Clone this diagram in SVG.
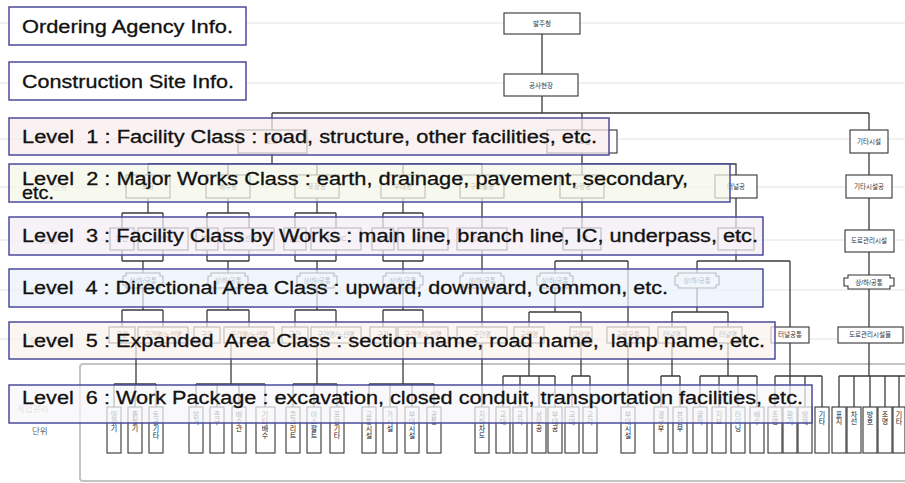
<svg xmlns="http://www.w3.org/2000/svg" width="905" height="483" viewBox="0 0 905 483">
<style>
.bg{fill:#fff}
.row{stroke:#e4e4e4;stroke-width:1}
.lbl{font-family:"Liberation Sans","Noto Sans CJK KR",sans-serif;font-size:8.5px;fill:#a8a8a8}
.cont{fill:none;stroke:#c4c4c4;stroke-width:2}
.c path{fill:none;stroke:#3a3a3a;stroke-width:1.3}
.n{fill:#fff;stroke:#333;stroke-width:1.1}
.nt{font-family:"Liberation Sans","Noto Sans CJK KR",sans-serif;font-size:6.5px;fill:#333;text-anchor:middle}
.v{font-family:"Noto Sans CJK KR",sans-serif;font-size:7px;fill:#222;writing-mode:vertical-rl}
.eb{stroke:#4b4b9b;stroke-width:1.5}
.et{font-family:"Liberation Sans",Arial,sans-serif;font-size:18px;fill:#111;stroke:#111;stroke-width:0.3;white-space:pre}
</style>
<rect class="bg" x="0" y="0" width="905" height="483"/>
<g id="rows">
<path class="row" d="M0 23H905M0 83H905M0 139H905M0 187H905M0 240H905M0 290H905M0 339H905"/>
</g>
<g id="side-labels">
<text class="lbl" x="37" y="26">발주청</text>
<text class="lbl" x="33" y="86">공사현장</text>
<text class="lbl" x="35" y="142">시설물</text>
<text class="lbl" x="52" y="190">공종</text>
<text class="lbl" x="35" y="243">시설물</text>
<text class="lbl" x="30" y="294">방향공간</text>
<text class="lbl" x="30" y="344">확장공간</text>
<text class="lbl" x="17" y="412">작업관리</text>
<text class="lbl" x="32" y="434" style="fill:#666">단위</text>
</g>
<rect class="cont" x="80" y="364" width="840" height="117" rx="3"/>
<g id="connectors" class="c">
<path d="M542 34V74M542 96V113M272 113H869M272 113V130M582 113V130M869 113V130"/>
<path d="M272 153V164M148 164H482M148 164V175M228 164V175M317 164V175M403 164V175M482 164V175M582 153V175M582 164H736V175M869 153V175"/>
<path d="M148 198V213M122 213H163M122 213V228M163 213V228"/>
<path d="M228 198V213M207 213H249M207 213V228M249 213V228"/>
<path d="M317 198V213M295 213H336M295 213V228M336 213V228"/>
<path d="M403 198V213M383 213H423M383 213V228M423 213V228"/>
<path d="M482 198V228M582 198V228M736 198V228M869 198V230"/>
<path d="M122 250V261M163 250V261M122 261H163M143 261V273"/>
<path d="M207 250V261M249 250V261M207 261H249M228 261V273"/>
<path d="M295 250V261M336 250V261M295 261H336M317 261V273"/>
<path d="M383 250V261M423 250V261M383 261H423M403 261V273"/>
<path d="M482 250V273M582 250V261M555 261H628M555 261V273M628 261V327M736 250V261M697 261H790M697 261V273M790 261V327M869 252V275"/>
<path d="M143 288V310M122 310H163M122 310V327M163 310V327"/>
<path d="M228 288V310M207 310H249M207 310V327M249 310V327"/>
<path d="M317 288V310M295 310H336M295 310V327M336 310V327"/>
<path d="M403 288V310M383 310H423M383 310V327M423 310V327"/>
<path d="M482 288V327M555 288V312M529 312H581M529 312V327M581 312V327M697 288V312M672 312H728M672 312V327M728 312V327M869 289V327"/>
<path d="M136 343V384M114 384H156M114 384V407M135 384V407M156 384V407"/>
<path d="M231 343V384M196 384H265M196 384V407M217 384V407M239 384V407M265 384V407"/>
<path d="M317 343V384M293 384H337M293 384V407M314 384V407M337 384V407"/>
<path d="M403 343V384M369 384H434M369 384V407M390 384V407M412 384V407M434 384V407"/>
<path d="M482 343V407M529 343V376M503 376H555M503 376V407M520 376V407M539 376V407M555 376V407M581 343V376M572 376H590M572 376V407M590 376V407M628 343V407"/>
<path d="M672 343V376M661 376H680M661 376V407M680 376V407M728 343V376M700 376H757M700 376V407M719 376V407M738 376V407M757 376V407"/>
<path d="M790 343V376M775 376H822M775 376V407M790 376V407M805 376V407M822 376V407"/>
<path d="M869 343V376M839 376H905M839 376V407M854 376V407M870 376V407M885 376V407M899 376V407"/>
</g>
<g id="n-balju"><rect class="n" x="504" y="13" width="76" height="21"/><text class="nt" x="542" y="26">발주청</text></g>
<g id="n-site"><rect class="n" x="504" y="74" width="74" height="22"/><text class="nt" x="541" y="88">공사현장</text></g>
<g id="l1-road"><rect class="n" x="238" y="130" width="69" height="23"/><text class="nt" x="272" y="144">도로</text></g>
<g id="l1-struct"><rect class="n" x="547" y="130" width="70" height="23"/><text class="nt" x="582" y="144">구조물</text></g>
<g id="l1-etc"><rect class="n" x="850" y="130" width="38" height="23"/><text class="nt" x="869" y="144">기타시설</text></g>
<g id="l2-earth"><rect class="n" x="126" y="175" width="44" height="23"/><text class="nt" x="148" y="189">토공</text></g>
<g id="l2-drain"><rect class="n" x="206" y="175" width="44" height="23"/><text class="nt" x="228" y="189">배수공</text></g>
<g id="l2-pave"><rect class="n" x="295" y="175" width="44" height="23"/><text class="nt" x="317" y="189">포장공</text></g>
<g id="l2-sec"><rect class="n" x="381" y="175" width="44" height="23"/><text class="nt" x="403" y="189">부대공</text></g>
<g id="l2-strw"><rect class="n" x="460" y="175" width="44" height="23"/><text class="nt" x="482" y="189">구조물공</text></g>
<g id="l2-bridge"><rect class="n" x="560" y="175" width="44" height="23"/><text class="nt" x="582" y="189">교량공</text></g>
<g id="l2-tunnel"><rect class="n" x="715" y="175" width="42" height="23"/><text class="nt" x="736" y="189">터널공</text></g>
<g id="l2-etc"><rect class="n" x="846" y="175" width="46" height="23"/><text class="nt" x="869" y="189">기타시설공</text></g>
<g id="l3-1a"><rect class="n" x="110" y="228" width="24" height="22"/><text class="nt" x="122" y="241">본선</text></g>
<g id="l3-1b"><rect class="n" x="138" y="228" width="50" height="22"/><text class="nt" x="163" y="241">지선/IC</text></g>
<g id="l3-2a"><rect class="n" x="196" y="228" width="22" height="22"/><text class="nt" x="207" y="241">본선</text></g>
<g id="l3-2b"><rect class="n" x="224" y="228" width="50" height="22"/><text class="nt" x="249" y="241">지선/IC</text></g>
<g id="l3-3a"><rect class="n" x="284" y="228" width="22" height="22"/><text class="nt" x="295" y="241">본선</text></g>
<g id="l3-3b"><rect class="n" x="311" y="228" width="50" height="22"/><text class="nt" x="336" y="241">지선/IC</text></g>
<g id="l3-4a"><rect class="n" x="372" y="228" width="22" height="22"/><text class="nt" x="383" y="241">본선</text></g>
<g id="l3-4b"><rect class="n" x="398" y="228" width="50" height="22"/><text class="nt" x="423" y="241">지선/IC</text></g>
<g id="l3-5"><rect class="n" x="457" y="228" width="50" height="22"/><text class="nt" x="482" y="241">지하차도</text></g>
<g id="l3-6"><rect class="n" x="563" y="228" width="38" height="22"/><text class="nt" x="582" y="241">교량</text></g>
<g id="l3-7"><rect class="n" x="718" y="228" width="36" height="22"/><text class="nt" x="736" y="241">터널</text></g>
<g id="l3-8"><rect class="n" x="845" y="230" width="49" height="22"/><text class="nt" x="869" y="243">도로관리시설</text></g>
<g id="l4-1"><polygon class="n" points="126,273 160,273 160,276 163,276 163,285 160,285 160,288 126,288 126,285 123,285 123,276 126,276"/><text class="nt" x="143" y="283">상/하/공통</text></g>
<g id="l4-2"><polygon class="n" points="211,273 245,273 245,276 248,276 248,285 245,285 245,288 211,288 211,285 208,285 208,276 211,276"/><text class="nt" x="228" y="283">상/하/공통</text></g>
<g id="l4-3"><polygon class="n" points="300,273 334,273 334,276 337,276 337,285 334,285 334,288 300,288 300,285 297,285 297,276 300,276"/><text class="nt" x="317" y="283">상/하/공통</text></g>
<g id="l4-4"><polygon class="n" points="386,273 420,273 420,276 423,276 423,285 420,285 420,288 386,288 386,285 383,285 383,276 386,276"/><text class="nt" x="403" y="283">상/하/공통</text></g>
<g id="l4-5"><polygon class="n" points="463,273 501,273 501,276 504,276 504,285 501,285 501,288 463,288 463,285 460,285 460,276 463,276"/><text class="nt" x="482" y="283">상/하/공통</text></g>
<g id="l4-6"><polygon class="n" points="540,273 570,273 570,276 573,276 573,285 570,285 570,288 540,288 540,285 537,285 537,276 540,276"/><text class="nt" x="555" y="283">상/하/공통</text></g>
<g id="l4-7"><polygon class="n" points="678,273 716,273 716,276 719,276 719,285 716,285 716,288 678,288 678,285 675,285 675,276 678,276"/><text class="nt" x="697" y="283">상/하/공통</text></g>
<g id="l4-8"><polygon class="n" points="848,275 890,275 890,278 894,278 894,286 890,286 890,289 848,289 848,286 844,286 844,278 848,278"/><text class="nt" x="869" y="285">상/하/공통</text></g>
<g id="l5-1a"><rect class="n" x="109" y="327" width="26" height="16"/><text class="nt" x="122" y="337">구간</text></g>
<g id="l5-1b"><rect class="n" x="138" y="327" width="50" height="16"/><text class="nt" x="163" y="337">구간명/노선명</text></g>
<g id="l5-2a"><rect class="n" x="194" y="327" width="26" height="16"/><text class="nt" x="207" y="337">구간</text></g>
<g id="l5-2b"><rect class="n" x="224" y="327" width="50" height="16"/><text class="nt" x="249" y="337">구간명/노선명</text></g>
<g id="l5-3a"><rect class="n" x="282" y="327" width="26" height="16"/><text class="nt" x="295" y="337">구간</text></g>
<g id="l5-3b"><rect class="n" x="311" y="327" width="50" height="16"/><text class="nt" x="336" y="337">구간명/노선명</text></g>
<g id="l5-4a"><rect class="n" x="370" y="327" width="26" height="16"/><text class="nt" x="383" y="337">구간</text></g>
<g id="l5-4b"><rect class="n" x="398" y="327" width="50" height="16"/><text class="nt" x="423" y="337">구간명/노선명</text></g>
<g id="l5-5"><rect class="n" x="457" y="327" width="50" height="16"/><text class="nt" x="482" y="337">구간명</text></g>
<g id="l5-6a"><rect class="n" x="514" y="327" width="30" height="16"/><text class="nt" x="529" y="337">교량명</text></g>
<g id="l5-6b"><rect class="n" x="570" y="327" width="22" height="16"/><text class="nt" x="581" y="337">교량명</text></g>
<g id="l5-6c"><rect class="n" x="607" y="327" width="42" height="16"/><text class="nt" x="628" y="337">교량공통</text></g>
<g id="l5-7a"><rect class="n" x="658" y="327" width="28" height="16"/><text class="nt" x="672" y="337">터널명</text></g>
<g id="l5-7b"><rect class="n" x="714" y="327" width="28" height="16"/><text class="nt" x="728" y="337">터널명</text></g>
<g id="l5-7c"><rect class="n" x="771" y="327" width="38" height="16"/><text class="nt" x="790" y="337">터널공통</text></g>
<g id="l5-8"><rect class="n" x="838" y="327" width="65" height="16"/><text class="nt" x="870" y="337">도로관리시설물</text></g>
<g id="wp">
<g id="w1"><rect class="n" x="107" y="407" width="14" height="46"/><text class="v" x="114" y="411">땅깎기</text></g>
<g id="w2"><rect class="n" x="128" y="407" width="14" height="46"/><text class="v" x="135" y="411">흙쌓기</text></g>
<g id="w3"><rect class="n" x="149" y="407" width="14" height="46"/><text class="v" x="156" y="411">토공기타</text></g>
<g id="w4"><rect class="n" x="189" y="407" width="14" height="46"/><text class="v" x="196" y="411">암거</text></g>
<g id="w5"><rect class="n" x="210" y="407" width="14" height="46"/><text class="v" x="217" y="411">측구</text></g>
<g id="w6"><rect class="n" x="232" y="407" width="14" height="46"/><text class="v" x="239" y="411">배수관</text></g>
<g id="w7"><rect class="n" x="256" y="407" width="19" height="46"/><text class="v" x="265" y="411">기타배수</text></g>
<g id="w8"><rect class="n" x="286" y="407" width="14" height="46"/><text class="v" x="293" y="411">콘크리트</text></g>
<g id="w9"><rect class="n" x="307" y="407" width="14" height="46"/><text class="v" x="314" y="411">아스팔트</text></g>
<g id="w10"><rect class="n" x="330" y="407" width="14" height="46"/><text class="v" x="337" y="411">포장기타</text></g>
<g id="w11"><rect class="n" x="362" y="407" width="14" height="46"/><text class="v" x="369" y="411">교통시설</text></g>
<g id="w12"><rect class="n" x="383" y="407" width="14" height="46"/><text class="v" x="390" y="411">가시설</text></g>
<g id="w13"><rect class="n" x="405" y="407" width="14" height="46"/><text class="v" x="412" y="411">부대시설</text></g>
<g id="w14"><rect class="n" x="427" y="407" width="14" height="46"/><text class="v" x="434" y="411">공통</text></g>
<g id="w15"><rect class="n" x="475" y="407" width="14" height="46"/><text class="v" x="482" y="411">지하차도</text></g>
<g id="w16"><rect class="n" x="496" y="407" width="14" height="46"/><text class="v" x="503" y="411">교대</text></g>
<g id="w17"><rect class="n" x="513" y="407" width="14" height="46"/><text class="v" x="520" y="411">교각</text></g>
<g id="w18"><rect class="n" x="532" y="407" width="14" height="46"/><text class="v" x="539" y="411">상부공</text></g>
<g id="w19"><rect class="n" x="548" y="407" width="14" height="46"/><text class="v" x="555" y="411">부대공</text></g>
<g id="w20"><rect class="n" x="565" y="407" width="14" height="46"/><text class="v" x="572" y="411">교대</text></g>
<g id="w21"><rect class="n" x="583" y="407" width="14" height="46"/><text class="v" x="590" y="411">교각</text></g>
<g id="w22"><rect class="n" x="621" y="407" width="14" height="46"/><text class="v" x="628" y="411">부대시설</text></g>
<g id="w23"><rect class="n" x="654" y="407" width="14" height="46"/><text class="v" x="661" y="411">갱구부</text></g>
<g id="w24"><rect class="n" x="673" y="407" width="14" height="46"/><text class="v" x="680" y="411">본선부</text></g>
<g id="w25"><rect class="n" x="693" y="407" width="14" height="46"/><text class="v" x="700" y="411">굴착</text></g>
<g id="w26"><rect class="n" x="712" y="407" width="14" height="46"/><text class="v" x="719" y="411">지보</text></g>
<g id="w27"><rect class="n" x="731" y="407" width="14" height="46"/><text class="v" x="738" y="411">라이닝</text></g>
<g id="w28"><rect class="n" x="750" y="407" width="14" height="46"/><text class="v" x="757" y="411">배수</text></g>
<g id="w29"><rect class="n" x="768" y="407" width="14" height="46"/><text class="v" x="775" y="411">조명</text></g>
<g id="w30"><rect class="n" x="783" y="407" width="14" height="46"/><text class="v" x="790" y="411">환기</text></g>
<g id="w31"><rect class="n" x="798" y="407" width="14" height="46"/><text class="v" x="805" y="411">방재</text></g>
<g id="w32"><rect class="n" x="815" y="407" width="14" height="46"/><text class="v" x="822" y="411">기타</text></g>
<g id="w33"><rect class="n" x="832" y="407" width="14" height="46"/><text class="v" x="839" y="411">표지</text></g>
<g id="w34"><rect class="n" x="847" y="407" width="14" height="46"/><text class="v" x="854" y="411">차선</text></g>
<g id="w35"><rect class="n" x="863" y="407" width="14" height="46"/><text class="v" x="870" y="411">방호</text></g>
<g id="w36"><rect class="n" x="878" y="407" width="14" height="46"/><text class="v" x="885" y="411">조명</text></g>
<g id="w37"><rect class="n" x="893" y="407" width="12" height="46"/><text class="v" x="899" y="411">기타</text></g>
</g>
<g id="info-ordering"><rect class="eb" x="9" y="7" width="237" height="38" fill="#fff"/><text class="et" x="22" y="33" textLength="211" lengthAdjust="spacingAndGlyphs">Ordering Agency Info.</text></g>
<g id="info-site"><rect class="eb" x="9" y="62" width="237" height="38" fill="#fff"/><text class="et" x="22" y="88" textLength="212" lengthAdjust="spacingAndGlyphs">Construction Site Info.</text></g>
<g id="level1"><rect class="eb" x="9" y="118" width="600" height="37" fill="#f8eded" fill-opacity="0.72"/><text class="et" x="22" y="143" textLength="575" lengthAdjust="spacingAndGlyphs">Level  1 : Facility Class : road, structure, other facilities, etc.</text></g>
<g id="level2"><rect class="eb" x="9" y="164" width="721" height="38" fill="#f5f6e8" fill-opacity="0.72"/><text class="et" x="22" y="185" textLength="666" lengthAdjust="spacingAndGlyphs">Level  2 : Major Works Class : earth, drainage, pavement, secondary,</text><text class="et" x="22" y="199" textLength="32" lengthAdjust="spacingAndGlyphs">etc.</text></g>
<g id="level3"><rect class="eb" x="9" y="217" width="754" height="38" fill="#f3edf5" fill-opacity="0.72"/><text class="et" x="22" y="242" textLength="736" lengthAdjust="spacingAndGlyphs">Level  3 : Facility Class by Works : main line, branch line, IC, underpass, etc.</text></g>
<g id="level4"><rect class="eb" x="9" y="269" width="754" height="38" fill="#eaf2fa" fill-opacity="0.72"/><text class="et" x="22" y="294" textLength="646" lengthAdjust="spacingAndGlyphs">Level  4 : Directional Area Class : upward, downward, common, etc.</text></g>
<g id="level5"><rect class="eb" x="9" y="322" width="766" height="37" fill="#fbf2ee" fill-opacity="0.72"/><text class="et" x="22" y="347" textLength="743" lengthAdjust="spacingAndGlyphs">Level  5 : Expanded  Area Class : section name, road name,  lamp name, etc.</text></g>
<g id="level6"><rect class="eb" x="9" y="385" width="803" height="38" fill="#f6f6fa" fill-opacity="0.72"/><text class="et" x="22" y="404" textLength="781" lengthAdjust="spacingAndGlyphs">Level  6 : Work Package : excavation, closed conduit, transportation facilities, etc.</text></g>
</svg>
